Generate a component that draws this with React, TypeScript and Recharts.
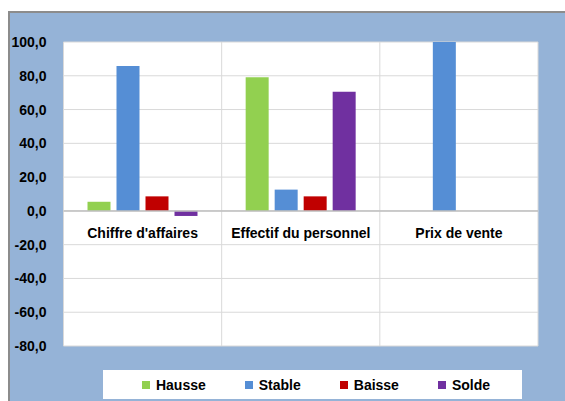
import { BarChart, Bar, XAxis, YAxis, CartesianGrid, Legend, ReferenceLine } from 'recharts';

const categories = ["Chiffre d'affaires", 'Effectif du personnel', 'Prix de vente'];
const hausse = [5.4, 79.2, 0];
const stable = [85.8, 12.6, 100];
const baisse = [8.6, 8.6, 0];
const solde = [-3.0, 70.6, 0];
const yTicks = [-80, -60, -40, -20, 0, 20, 40, 60, 80, 100];

const series = [
  { key: 'hausse', name: 'Hausse', color: '#92D050' },
  { key: 'stable', name: 'Stable', color: '#558ED5' },
  { key: 'baisse', name: 'Baisse', color: '#C00000' },
  { key: 'solde', name: 'Solde', color: '#7030A0' },
];

const data = categories.map((name, i) => ({
  name,
  hausse: hausse[i],
  stable: stable[i],
  baisse: baisse[i],
  solde: solde[i],
}));

const W = 555;
const H = 388;
const margin = { top: 29, right: 27, bottom: 35, left: 0 };
const xAxisH = 20;
const plotH = H - margin.top - margin.bottom - xAxisH;
const yMin = -80;
const yMax = 100;
const zeroY = margin.top + (plotH * yMax) / (yMax - yMin);

const font = '"Liberation Sans", Arial, sans-serif';
const frameBlue = '#95B3D7';

const fmt = (v: number) => v.toFixed(1).replace('.', ',');

const CategoryTick = (props: any) => {
  const { x, payload } = props;
  return (
    <text x={x} y={zeroY + 22} dy="0.35em" textAnchor="middle" fontFamily={font} fontSize={14} fontWeight="bold" fill="#000">
      {payload.value}
    </text>
  );
};

const LegendBox = () => (
  <div
    style={{
      display: 'flex',
      justifyContent: 'center',
      alignItems: 'center',
      height: 29,
      background: '#fff',
      fontFamily: font,
      fontSize: 14,
      fontWeight: 'bold',
      color: '#000',
      paddingLeft: 8,
      boxSizing: 'border-box',
    }}
  >
    {series.map((s, i) => (
      <div key={s.key} style={{ display: 'flex', alignItems: 'center', marginLeft: i ? 39 : 0 }}>
        <span style={{ width: 8, height: 8, background: s.color, marginRight: 6 }} />
        <span>{s.name}</span>
      </div>
    ))}
  </div>
);

export default function App() {
  return (
    <div
      style={{
        position: 'absolute',
        left: 8,
        top: 11,
        width: 557,
        height: 390,
        background: frameBlue,
        borderTop: '2px solid #8c8c8c',
        borderLeft: '2px solid #8c8c8c',
        boxSizing: 'border-box',
        overflow: 'hidden',
      }}
    >
      <style>{'html,body{margin:0;overflow:hidden}'}</style>
      <BarChart width={W} height={H} data={data} margin={margin} barSize={23} barGap={6}>
        <CartesianGrid
          stroke="#d9d9d9"
          fill="#fff"
          verticalCoordinatesGenerator={({ offset }: any) =>
            [0, 1, 2, 3].map((i) => offset.left + (offset.width * i) / 3)
          }
        />
        <XAxis
          dataKey="name"
          height={xAxisH}
          axisLine={false}
          tickLine={false}
          interval={0}
          tick={<CategoryTick />}
        />
        <YAxis
          width={53.5}
          domain={[yMin, yMax]}
          ticks={yTicks}
          tickFormatter={fmt}
          axisLine={false}
          tickLine={false}
          tickSize={0}
          tickMargin={17}
          tick={{ fontFamily: font, fontSize: 14, fontWeight: 'bold', fill: '#000' }}
        />
        <ReferenceLine y={0} stroke="#bfbfbf" strokeWidth={1.5} />
        {series.map((s) => (
          <Bar key={s.key} dataKey={s.key} name={s.name} fill={s.color} isAnimationActive={false} />
        ))}
        <Legend
          layout="horizontal"
          verticalAlign="middle"
          align="center"
          content={<LegendBox />}
          wrapperStyle={{ top: 357, left: 92.5, width: 419, height: 29 }}
        />
      </BarChart>
    </div>
  );
}
